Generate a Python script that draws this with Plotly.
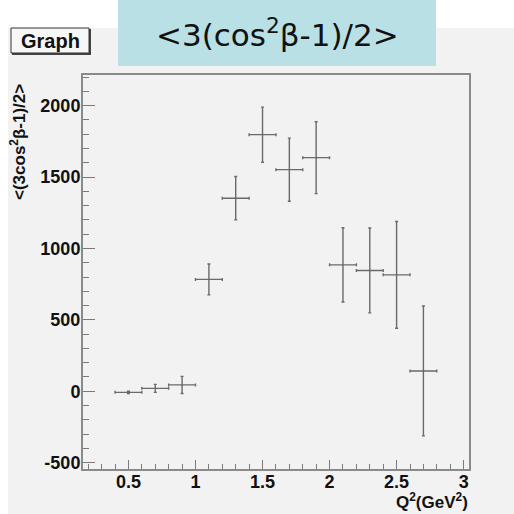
import plotly.graph_objects as go

# Data
q2 = [0.5, 0.7, 0.9, 1.1, 1.3, 1.5, 1.7, 1.9, 2.1, 2.3, 2.5, 2.7]
q2_err = [0.1] * 12
values = [-8, 20, 44, 783, 1352, 1797, 1552, 1636, 885, 846, 815, 142]
val_err = [8, 28, 60, 108, 152, 193, 221, 252, 260, 297, 374, 455]

x_ticks = [0.5, 1, 1.5, 2, 2.5, 3]
x_ticklabels = ["0.5", "1", "1.5", "2", "2.5", "3"]
y_ticks = [-500, 0, 500, 1000, 1500, 2000]
y_ticklabels = ["-500", "0", "500", "1000", "1500", "2000"]

FONT = "Liberation Sans, Arial, Helvetica, sans-serif"
W, H = 514, 514
L, R, T, B = 83, 45, 75, 45
PW, PH = W - L - R, H - T - B


def px(x):
    return (x - L) / PW


def py(y):
    return (H - B - y) / PH


fig = go.Figure()
fig.add_trace(go.Scatter(
    x=q2, y=values, mode="markers",
    marker=dict(size=1, color="#666666"),
    error_x=dict(type="data", array=q2_err, color="#6a6a6a", thickness=1.4, width=1.5),
    error_y=dict(type="data", array=val_err, color="#6a6a6a", thickness=1.4, width=1.5),
    showlegend=False, hoverinfo="skip",
))

axis_common = dict(
    showgrid=False, zeroline=False, showline=True, mirror=True,
    linecolor="#8a8a8a", linewidth=2, ticks="inside", tickcolor="#7a7a7a",
    tickwidth=1.2,
    tickfont=dict(family=FONT, size=18, color="#111111", weight="bold"),
)

fig.update_layout(
    width=W, height=H,
    margin=dict(l=L, r=R, t=T, b=B, pad=0),
    paper_bgcolor="white",
    plot_bgcolor="#f3f3f3",
    xaxis=dict(range=[0.161, 3.04], tickvals=x_ticks, ticktext=x_ticklabels,
               ticklen=9, ticklabelstandoff=-5,
               minor=dict(dtick=0.1, tick0=0, ticks="inside", ticklen=5,
                          tickcolor="#7a7a7a", tickwidth=1.2),
               **axis_common),
    yaxis=dict(range=[-545, 2215], tickvals=y_ticks, ticktext=y_ticklabels,
               ticklen=12, ticklabelstandoff=-3,
               minor=dict(dtick=100, tick0=0, ticks="inside", ticklen=6,
                          tickcolor="#7a7a7a", tickwidth=1.2),
               **axis_common),
)

shapes = [
    # gray canvas
    dict(type="rect", xref="paper", yref="paper", layer="below",
         x0=px(8), x1=px(516), y0=py(516), y1=py(28),
         fillcolor="#f2f2f2", line=dict(width=0)),
    # title box
    dict(type="rect", xref="paper", yref="paper", layer="above",
         x0=px(118), x1=px(436), y0=py(66), y1=py(-2),
         fillcolor="#b9e0e4", line=dict(width=0)),
    # Graph box shadow
    dict(type="rect", xref="paper", yref="paper", layer="above",
         x0=px(12), x1=px(91), y0=py(55), y1=py(29),
         fillcolor="#444444", line=dict(width=0)),
    # Graph box
    dict(type="rect", xref="paper", yref="paper", layer="above",
         x0=px(11), x1=px(89), y0=py(53), y1=py(28),
         fillcolor="#f7f7f7", line=dict(width=1, color="#333333")),
]

annotations = [
    dict(text="<3(cos<sup>2</sup>β-1)/2>", xref="paper", yref="paper",
         x=px(277), y=py(33), xanchor="center", yanchor="middle", showarrow=False,
         font=dict(family="DejaVu Sans, Liberation Sans, sans-serif", size=31, color="#111111")),
    dict(text="<b>Graph</b>", xref="paper", yref="paper",
         x=px(50), y=py(40.5), xanchor="center", yanchor="middle", showarrow=False,
         font=dict(family=FONT, size=20, color="#111111")),
    dict(text="<b><(3cos<sup>2</sup>β-1)/2></b>", xref="paper", yref="paper",
         x=px(18), y=py(82), xanchor="center", yanchor="top", textangle=-90,
         showarrow=False, font=dict(family=FONT, size=17, color="#111111")),
    dict(text="<b>Q<sup>2</sup>(GeV<sup>2</sup>)</b>", xref="paper", yref="paper",
         x=px(470), y=py(501), xanchor="right", yanchor="middle",
         showarrow=False, font=dict(family=FONT, size=17, color="#111111")),
]

fig.update_layout(shapes=shapes, annotations=annotations)
fig.write_html("out.html", config={"displayModeBar": False},
               post_script="document.body.style.margin='0px';document.body.style.overflow='hidden';")
